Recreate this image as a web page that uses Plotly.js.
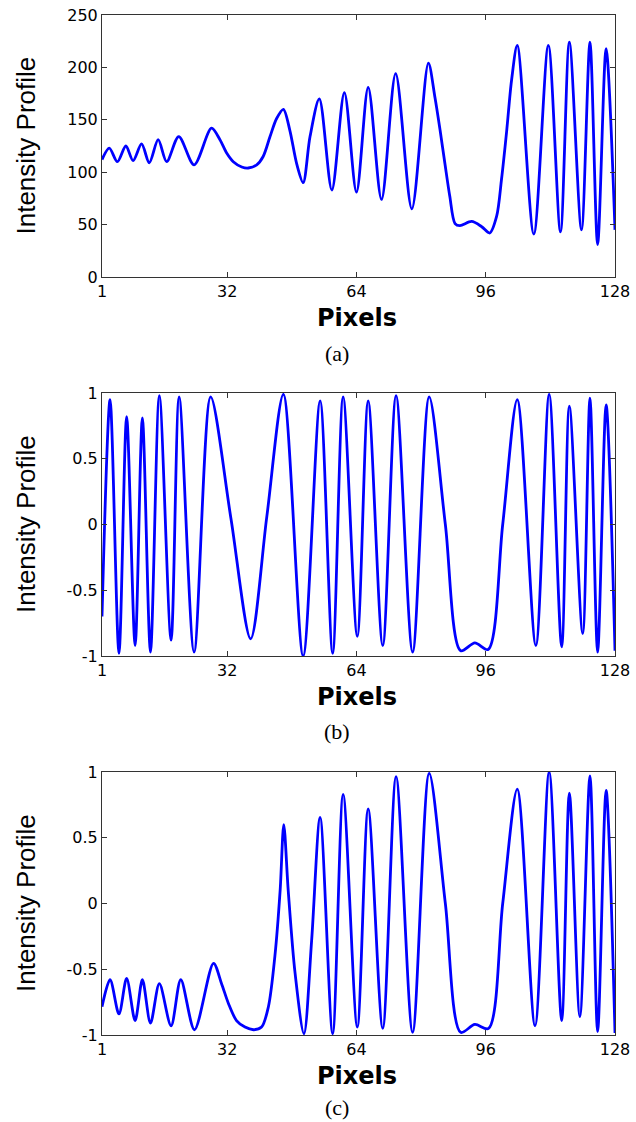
<!DOCTYPE html>
<html>
<head>
<meta charset="utf-8">
<script src="https://cdn.plot.ly/plotly-3.0.1.min.js"></script>
<style>html,body{margin:0;padding:0;background:#fff;}#chart{width:636px;height:1122px;}</style>
</head>
<body>
<div id="chart"></div>
<script>
// ---- Data (pixel position, intensity) ----
const pixA = [1, 2.8, 4.8, 6.9, 8.7, 10.8, 12.7, 14.9, 17.0, 20.0, 23.8, 28.1, 30.2, 31.9, 33.5, 35.6, 37.2, 39.3, 40.9, 42.6, 44.2, 45.9, 47.5, 49.2, 50.8, 52.5, 54.8, 57.9, 61.0, 64.0, 66.9, 70.2, 73.7, 77.7, 81.8, 83.4, 84.7, 85.9, 87.1, 88.4, 89.6, 92.5, 95.0, 97.0, 98.7, 99.9, 101.2, 102.4, 103.8, 107.9, 111.5, 114.5, 116.7, 119.7, 121.8, 123.7, 125.8, 128];
const valA = [112, 123, 110, 125, 111, 127, 109, 131, 110, 134, 107, 142, 131, 118, 110, 105, 104, 107, 115, 134, 151, 160, 140, 108, 90, 134, 170, 83, 176, 81, 181, 74, 194, 65, 204, 172, 140, 108, 77, 51, 49, 53, 48, 42, 58, 93, 140, 188, 221, 41, 221, 43, 224, 45, 224, 31, 218, 45];

const pixB = [1, 3.0, 5.2, 7.1, 9.2, 11.0, 13.0, 15.2, 18.1, 20.1, 23.8, 27.9, 32.9, 37.8, 41.8, 45.9, 50.8, 55.0, 58.1, 60.7, 64.2, 66.9, 70.5, 73.8, 77.9, 82.0, 86.0, 89.8, 93.3, 96.6, 100.2, 103.8, 108.4, 111.7, 114.8, 116.7, 120.0, 121.8, 123.7, 125.8, 128];
const valB = [-0.70, 0.95, -0.98, 0.82, -0.92, 0.81, -0.97, 0.98, -0.88, 0.97, -0.97, 0.97, 0.05, -0.87, 0.06, 0.99, -1.0, 0.94, -0.98, 0.97, -0.85, 0.94, -0.92, 0.98, -0.97, 0.97, 0.0, -0.96, -0.90, -0.95, 0.0, 0.95, -0.92, 0.99, -0.93, 0.90, -0.83, 0.96, -0.97, 0.91, -0.96];

const pixC = [1, 3.0, 5.2, 7.1, 9.2, 11.0, 13.0, 15.2, 18.1, 20.5, 23.9, 28.6, 30.6, 32.3, 34.3, 36.4, 38.5, 40.5, 42.2, 43.8, 45.1, 46.0, 47.1, 48.8, 51.0, 52.9, 55.0, 58.1, 60.7, 64.2, 66.9, 70.5, 73.8, 77.9, 82.0, 86.0, 89.8, 93.3, 96.7, 100.2, 103.8, 108.2, 111.7, 114.8, 116.7, 119.3, 121.8, 123.7, 125.8, 128];
const valC = [-0.785, -0.58, -0.84, -0.57, -0.89, -0.58, -0.91, -0.61, -0.93, -0.58, -0.96, -0.455, -0.61, -0.76, -0.89, -0.94, -0.96, -0.94, -0.785, -0.40, 0.10, 0.60, 0.10, -0.53, -0.99, -0.28, 0.655, -0.99, 0.83, -0.94, 0.72, -0.95, 0.965, -0.98, 0.99, 0.0, -0.98, -0.92, -0.95, 0.0, 0.87, -0.93, 1.0, -0.89, 0.84, -0.86, 0.97, -0.975, 0.86, -0.985];

const xTicks = [1, 32, 64, 96, 128];
const yTicksA = [0, 50, 100, 150, 200, 250];
const yTicksBC = [-1, -0.5, 0, 0.5, 1];
const yTickTextBC = ['-1', '-0.5', '0', '0.5', '1'];
const panelLabels = ['(a)', '(b)', '(c)'];
const yTitle = 'Intensity Profile';
const xTitle = 'Pixels';

// ---- Layout geometry (figure pixels) ----
const W = 636, H = 1122;
const plotL = 102, plotR = 615;
const panels = [[15, 277], [393, 656], [772, 1035]];
const pixelsY = [318, 697, 1076];
const labelY = [354, 731, 1107];
const py = v => 1 - v / H;

const lineStyle = {color: '#0000ff', width: 2.8, shape: 'spline', smoothing: 0.85};
const traces = [
  {x: pixA, y: valA, xaxis: 'x', yaxis: 'y', mode: 'lines', line: lineStyle, hoverinfo: 'none'},
  {x: pixB, y: valB, xaxis: 'x2', yaxis: 'y2', mode: 'lines', line: lineStyle, hoverinfo: 'none'},
  {x: pixC, y: valC, xaxis: 'x3', yaxis: 'y3', mode: 'lines', line: lineStyle, hoverinfo: 'none'}
];

const tickFont = {family: 'DejaVu Sans, sans-serif', size: 16, color: '#000'};
function xax(anchor) {
  return {
    domain: [plotL / W, plotR / W], range: [1, 128], anchor: anchor,
    tickvals: xTicks, ticktext: xTicks.map(String), ticks: 'inside', ticklen: 5,
    tickcolor: '#333', showline: true, linecolor: '#333', linewidth: 1, mirror: 'ticks',
    showgrid: false, zeroline: false, tickfont: tickFont, automargin: false
  };
}
function yax(anchor, dom, range, vals, text) {
  return {
    domain: dom, range: range, anchor: anchor,
    tickvals: vals, ticktext: text, ticks: 'inside', ticklen: 5,
    tickcolor: '#333', showline: true, linecolor: '#333', linewidth: 1, mirror: 'ticks',
    showgrid: false, zeroline: false, tickfont: tickFont, automargin: false
  };
}
const doms = panels.map(p => [py(p[1]), py(p[0])]);

const annotations = [];
panels.forEach((p, i) => {
  annotations.push({text: yTitle, xref: 'paper', yref: 'paper', x: 25.5 / W, y: py((p[0] + p[1]) / 2),
    xanchor: 'center', yanchor: 'middle', textangle: -90, showarrow: false,
    font: {family: 'Liberation Sans, Arial, sans-serif', size: 26, color: '#000'}});
  annotations.push({text: '<b>' + xTitle + '</b>', xref: 'paper', yref: 'paper', x: 357 / W, y: py(pixelsY[i]),
    xanchor: 'center', yanchor: 'middle', showarrow: false,
    font: {family: 'DejaVu Sans, sans-serif', size: 24, color: '#000'}});
  annotations.push({text: panelLabels[i], xref: 'paper', yref: 'paper', x: 337 / W, y: py(labelY[i]),
    xanchor: 'center', yanchor: 'middle', showarrow: false,
    font: {family: 'Liberation Serif, Times New Roman, serif', size: 22, color: '#000'}});
});

const layout = {
  width: W, height: H, margin: {l: 0, r: 0, t: 0, b: 0, pad: 0},
  paper_bgcolor: '#fff', plot_bgcolor: '#fff', showlegend: false,
  xaxis: xax('y'), xaxis2: xax('y2'), xaxis3: xax('y3'),
  yaxis: yax('x', doms[0], [0, 250], yTicksA, yTicksA.map(String)),
  yaxis2: yax('x2', doms[1], [-1, 1], yTicksBC, yTickTextBC),
  yaxis3: yax('x3', doms[2], [-1, 1], yTicksBC, yTickTextBC),
  annotations: annotations
};

Plotly.newPlot('chart', traces, layout, {staticPlot: true, displayModeBar: false});
</script>
</body>
</html>
